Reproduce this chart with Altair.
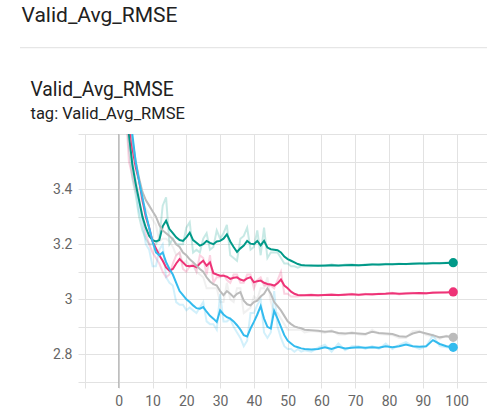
import altair as alt
import pandas as pd

steps = list(range(1, 56)) + list(range(57, 100, 2))

green_smooth = [4.30, 3.85, 3.60, 3.49, 3.42, 3.36, 3.30, 3.26, 3.23, 3.215,
                3.21, 3.215, 3.265, 3.285, 3.255, 3.24, 3.225, 3.215, 3.212, 3.225,
                3.242, 3.215, 3.205, 3.195, 3.20, 3.212, 3.205, 3.20, 3.21, 3.212,
                3.22, 3.236, 3.21, 3.19, 3.172, 3.185, 3.195, 3.212, 3.202, 3.20,
                3.212, 3.196, 3.212, 3.188, 3.182, 3.18, 3.178, 3.17, 3.155, 3.146,
                3.14, 3.134, 3.128, 3.125, 3.124,
                3.123, 3.122, 3.123, 3.124, 3.123, 3.124, 3.125, 3.124, 3.125, 3.126, 3.126,
                3.127, 3.127, 3.128, 3.128, 3.129, 3.13, 3.13, 3.131, 3.131, 3.132, 3.133]
green_raw = [4.0, 3.7, 3.55, 3.44, 3.38, 3.30, 3.25, 3.22, 3.20, 3.20,
             3.20, 3.22, 3.34, 3.37, 3.20, 3.22, 3.20, 3.20, 3.20, 3.26,
             3.28, 3.17, 3.18, 3.17, 3.22, 3.24, 3.18, 3.19, 3.25, 3.22,
             3.24, 3.27, 3.16, 3.15, 3.14, 3.22, 3.23, 3.26, 3.18, 3.19,
             3.25, 3.16, 3.26, 3.15, 3.17, 3.17, 3.17, 3.15, 3.13, 3.13,
             3.12, 3.12, 3.115, 3.12, 3.12,
             3.12, 3.124, 3.12, 3.127, 3.121, 3.126, 3.127, 3.122, 3.127, 3.128, 3.124,
             3.129, 3.127, 3.13, 3.127, 3.131, 3.131, 3.129, 3.133, 3.131, 3.134, 3.134]

pink_smooth = [4.40, 3.90, 3.65, 3.55, 3.48, 3.43, 3.36, 3.30, 3.26, 3.21,
               3.185, 3.16, 3.14, 3.116, 3.104, 3.11, 3.13, 3.146, 3.134, 3.122,
               3.12, 3.122, 3.116, 3.13, 3.14, 3.122, 3.134, 3.095, 3.09, 3.086,
               3.086, 3.082, 3.074, 3.078, 3.08, 3.072, 3.068, 3.076, 3.08, 3.062,
               3.066, 3.068, 3.06, 3.056, 3.054, 3.05, 3.058, 3.072, 3.05, 3.04,
               3.028, 3.02, 3.016, 3.015, 3.015,
               3.016, 3.015, 3.016, 3.017, 3.016, 3.017, 3.018, 3.017, 3.018, 3.018, 3.019,
               3.02, 3.022, 3.02, 3.021, 3.022, 3.023, 3.022, 3.024, 3.025, 3.025, 3.027]
pink_raw = [4.1, 3.7, 3.5, 3.45, 3.40, 3.36, 3.30, 3.24, 3.20, 3.17,
            3.15, 3.13, 3.10, 3.08, 3.09, 3.13, 3.16, 3.17, 3.11, 3.10,
            3.12, 3.13, 3.10, 3.16, 3.15, 3.09, 3.16, 3.06, 3.08, 3.08,
            3.09, 3.07, 3.06, 3.09, 3.09, 3.06, 3.06, 3.09, 3.09, 3.04,
            3.07, 3.08, 3.05, 3.05, 3.05, 3.04, 3.07, 3.10, 3.02, 3.02,
            3.01, 3.01, 3.01, 3.014, 3.015,
            3.018, 3.013, 3.017, 3.019, 3.014, 3.019, 3.02, 3.015, 3.02, 3.016, 3.021,
            3.022, 3.024, 3.018, 3.023, 3.024, 3.021, 3.02, 3.027, 3.024, 3.027, 3.028]

grey_smooth = [4.5, 4.0, 3.72, 3.58, 3.50, 3.44, 3.39, 3.36, 3.34, 3.32,
               3.30, 3.27, 3.25, 3.24, 3.23, 3.218, 3.20, 3.19, 3.17, 3.16,
               3.145, 3.135, 3.122, 3.11, 3.10, 3.08, 3.065, 3.055, 3.05, 3.03,
               3.015, 3.03, 3.02, 3.008, 3.02, 3.026, 2.995, 2.982, 2.978, 2.99,
               2.995, 3.01, 3.02, 3.04, 3.02, 2.99, 2.975, 2.96, 2.94, 2.92,
               2.91, 2.902, 2.898, 2.895, 2.89,
               2.888, 2.886, 2.882, 2.884, 2.878, 2.876, 2.878, 2.876, 2.874, 2.882, 2.878,
               2.876, 2.874, 2.866, 2.864, 2.876, 2.882, 2.876, 2.87, 2.862, 2.866, 2.862]
grey_raw = [4.2, 3.8, 3.6, 3.5, 3.44, 3.38, 3.35, 3.33, 3.31, 3.29,
            3.27, 3.21, 3.22, 3.22, 3.21, 3.19, 3.16, 3.17, 3.13, 3.14,
            3.12, 3.12, 3.10, 3.09, 3.08, 3.04, 3.04, 3.04, 3.04, 2.99,
            2.99, 3.06, 3.00, 2.99, 3.04, 3.04, 2.95, 2.96, 2.97, 3.01,
            3.00, 3.04, 3.04, 3.08, 2.99, 2.95, 2.95, 2.93, 2.91, 2.89,
            2.89, 2.89, 2.89, 2.89, 2.88,
            2.885, 2.882, 2.878, 2.888, 2.872, 2.872, 2.882, 2.872, 2.87, 2.89, 2.874,
            2.872, 2.87, 2.86, 2.86, 2.884, 2.886, 2.87, 2.866, 2.856, 2.868, 2.858]

blue_smooth = [4.6, 4.05, 3.75, 3.60, 3.50, 3.43, 3.37, 3.31, 3.26, 3.21,
               3.17, 3.16, 3.17, 3.135, 3.11, 3.09, 3.06, 3.03, 3.015, 3.0,
               2.99, 2.978, 2.968, 2.966, 2.972, 2.955, 2.94, 2.93, 2.918, 2.96,
               2.945, 2.935, 2.93, 2.92, 2.906, 2.89, 2.87, 2.865, 2.894, 2.918,
               2.945, 2.975, 2.93, 2.9, 2.894, 2.958, 2.93, 2.9, 2.87, 2.85,
               2.84, 2.83, 2.826, 2.822, 2.82,
               2.818, 2.82, 2.826, 2.82, 2.828, 2.822, 2.824, 2.826, 2.824, 2.826, 2.824,
               2.83, 2.826, 2.83, 2.836, 2.83, 2.828, 2.83, 2.852, 2.838, 2.83, 2.826]
blue_raw = [4.3, 3.8, 3.6, 3.5, 3.42, 3.32, 3.28, 3.20, 3.18, 3.12,
            3.12, 3.18, 3.20, 3.08, 3.06, 3.05, 2.99, 2.98, 2.98, 2.96,
            2.97, 2.96, 2.95, 2.97, 2.99, 2.92, 2.91, 2.91, 2.89, 3.02,
            2.92, 2.92, 2.93, 2.90, 2.88, 2.86, 2.83, 2.85, 2.95, 2.95,
            2.98, 3.00, 2.88, 2.86, 2.88, 3.03, 2.90, 2.86, 2.83, 2.82,
            2.82, 2.81, 2.82, 2.81, 2.815,
            2.81, 2.825, 2.835, 2.81, 2.84, 2.815, 2.83, 2.83, 2.82, 2.83, 2.82,
            2.84, 2.82, 2.835, 2.845, 2.83, 2.82, 2.83, 2.87, 2.83, 2.826, 2.822]

series_names = ["green", "pink", "grey", "blue"]
series_colors = ["#009988", "#EE3377", "#BBBBBB", "#33BBEE"]
smooth_vals = [green_smooth, pink_smooth, grey_smooth, blue_smooth]
raw_vals = [green_raw, pink_raw, grey_raw, blue_raw]

y_ticks = [2.7, 2.8, 2.9, 3.0, 3.1, 3.2, 3.3, 3.4, 3.5, 3.6]
y_labelled = [2.8, 3.0, 3.2, 3.4]
x_ticks = [-10, 0, 10, 20, 30, 40, 50, 60, 70, 80, 90, 100]

rows = []
for name, sm, rw in zip(series_names, smooth_vals, raw_vals):
    for s, a, b in zip(steps, sm, rw):
        rows.append({"step": s, "smooth": a, "raw": b, "series": name})
df = pd.DataFrame(rows)
last = df[df["step"] == steps[-1]]

W, H = 402, 248
GRID = "#e2e2e2"
FONT = "Roboto"

color = alt.Color("series:N", scale=alt.Scale(domain=series_names, range=series_colors), legend=None)
xs = alt.Scale(domain=[-10, 109], nice=False, zero=False)
ys = alt.Scale(domain=[2.7, 3.6], nice=False, zero=False)

lab_cond = " || ".join("abs(datum.value - %s) < 0.001" % v for v in y_labelled)

x_axis = alt.Axis(values=x_ticks, grid=True, gridColor=GRID, gridWidth=1, domain=False,
                  ticks=True, tickColor=GRID, tickSize=6, labelColor="#666666",
                  labelFont=FONT, labelFontSize=14, labelPadding=6, title=None,
                  labelOverlap=False, labelFlush=False,
                  labelExpr="datum.value < 0 ? '' : datum.label")
y_axis = alt.Axis(values=y_ticks, grid=True, gridColor=GRID, gridWidth=1, domain=False,
                  ticks=True, tickColor=GRID, tickSize=7, labelColor="#666666",
                  labelFont=FONT, labelFontSize=14, labelPadding=6, title=None, format=".2~f",
                  labelOverlap=False, labelFlush=False,
                  labelExpr="(" + lab_cond + ") ? datum.label : ''")

X = lambda f: alt.X(f, type="quantitative", scale=xs, axis=x_axis)
Y = lambda f: alt.Y(f, type="quantitative", scale=ys, axis=y_axis)

base = alt.Chart(df)
raw = base.mark_line(clip=True, strokeWidth=2, opacity=0.22).encode(
    x=X("step"), y=Y("raw"), color=color, detail="series:N")
smooth = base.mark_line(clip=True, strokeWidth=2).encode(
    x=X("step"), y=Y("smooth"), color=color, detail="series:N")
dots = alt.Chart(last).mark_circle(size=85, opacity=1).encode(
    x=X("step"), y=Y("smooth"), color=color)

zero_df = pd.DataFrame({"step": [0]})
zero = alt.Chart(zero_df).mark_rule(color="#b0b0b0", strokeWidth=1.2).encode(
    x=X("step"), y=alt.value(0), y2=alt.value(H + 6))

def txt(t, x, y, size, color="#212121"):
    return alt.Chart(pd.DataFrame({"t": [t]})).mark_text(
        align="left", baseline="alphabetic", font=FONT, fontSize=size, color=color
    ).encode(text="t:N", x=alt.value(x), y=alt.value(y))

header = txt("Valid_Avg_RMSE", -63.5, -111.8, 21)
sub = txt("Valid_Avg_RMSE", -54.5, -38.3, 19.3)
tag = txt("tag: Valid_Avg_RMSE", -54.5, -15.5, 16.5)
sep = alt.Chart(zero_df).mark_rule(color="#e0e0e0", strokeWidth=1).encode(
    x=alt.value(-65), x2=alt.value(W), y=alt.value(-86.3))

chart = alt.layer(raw, zero, smooth, dots, header, sep, sub, tag).properties(
    width=W, height=H,
    autosize=alt.AutoSizeParams(type="none"),
    padding={"left": 85, "top": 134, "right": 0, "bottom": 31},
).configure_view(strokeWidth=0).configure(background="white")

chart.save("out.html", embed_options={"renderer": "svg", "actions": False})
